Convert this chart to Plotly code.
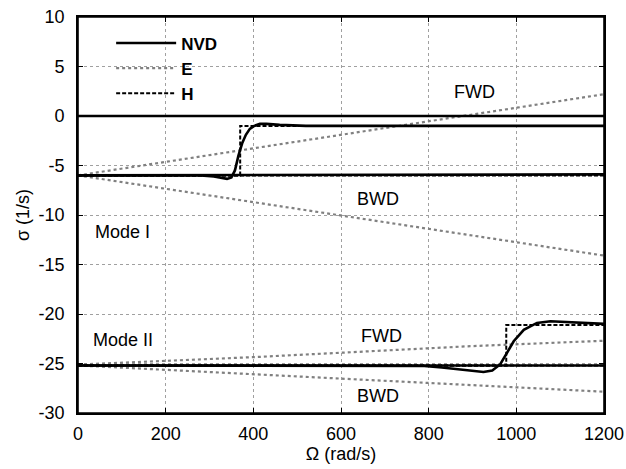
import plotly.graph_objects as go

# ---- data ----
# NVD, mode I
nvd1a_w = [0, 280, 310, 330, 340, 350, 358, 366, 375, 383, 392, 402, 415, 430, 460, 520, 600, 800, 1000, 1200]
nvd1a_s = [-6.0, -6.0, -6.1, -6.3, -6.35, -6.2, -5.5, -4.0, -2.7, -1.9, -1.3, -1.0, -0.8, -0.8, -0.9, -1.0, -1.0, -1.05, -1.05, -1.0]
nvd1b_w = [0, 1200]
nvd1b_s = [-6.0, -5.9]
nvd0_w = [0, 1200]
nvd0_s = [0.0, 0.0]
# NVD, mode II
nvd2a_w = [0, 400, 790, 830, 870, 900, 925, 945, 963, 979, 994, 1017, 1047, 1078, 1123, 1160, 1200]
nvd2a_s = [-25.2, -25.2, -25.25, -25.4, -25.6, -25.75, -25.85, -25.7, -25.1, -23.9, -22.75, -21.6, -20.9, -20.73, -20.83, -20.95, -21.0]
nvd2b_w = [0, 1200]
nvd2b_s = [-25.2, -25.2]
# E
e1f_w = [0, 1200]
e1f_s = [-6.0, 2.2]
e1b_w = [0, 1200]
e1b_s = [-6.0, -14.1]
e2f_w = [0, 400, 895, 1200]
e2f_s = [-25.1, -24.36, -23.25, -22.7]
e2b_w = [0, 400, 1200]
e2b_s = [-25.2, -26.06, -27.85]
# H
h1a_w = [0, 370, 370, 1200]
h1a_s = [-6.0, -6.0, -1.0, -1.0]
h1b_w = [0, 1200]
h1b_s = [-6.0, -6.0]
h2a_w = [0, 977, 977, 1200]
h2a_s = [-25.2, -25.2, -21.1, -21.1]
h2b_w = [0, 1200]
h2b_s = [-25.2, -25.2]

x_ticks = [0, 200, 400, 600, 800, 1000, 1200]
y_ticks = [10, 5, 0, -5, -10, -15, -20, -25, -30]
y_tick_text = ["10", "5", "0", "-5", "-10", "-15", "-20", "-25", "-30"]

labels = [
    ("FWD", 904, 2.4),
    ("BWD", 684, -8.4),
    ("FWD", 693, -22.2),
    ("BWD", 684, -28.3),
]
mode_labels = [("Mode I", 35, -11.7), ("Mode II", 30, -22.6)]

FONT = "Liberation Sans, Arial, sans-serif"

fig = go.Figure()

E_STYLE = dict(color="#808080", width=2.2, dash="dot")
H_STYLE = dict(color="black", width=2, dash="4px,2px")
N_STYLE = dict(color="black", width=2.6)

for w, s in [(e1f_w, e1f_s), (e1b_w, e1b_s), (e2f_w, e2f_s), (e2b_w, e2b_s)]:
    fig.add_trace(go.Scatter(x=w, y=s, mode="lines", line=E_STYLE, name="E",
                             legendgroup="E", showlegend=False))
for w, s in [(h1a_w, h1a_s), (h1b_w, h1b_s), (h2a_w, h2a_s), (h2b_w, h2b_s)]:
    fig.add_trace(go.Scatter(x=w, y=s, mode="lines", line=H_STYLE, name="H",
                             legendgroup="H", showlegend=False))
for w, s in [(nvd0_w, nvd0_s), (nvd1a_w, nvd1a_s), (nvd1b_w, nvd1b_s),
             (nvd2a_w, nvd2a_s), (nvd2b_w, nvd2b_s)]:
    fig.add_trace(go.Scatter(x=w, y=s, mode="lines", line=N_STYLE, name="NVD",
                             legendgroup="NVD", showlegend=False))

# legend entries
fig.add_trace(go.Scatter(x=[None], y=[None], mode="lines", line=N_STYLE, name="NVD", legendrank=1))
fig.add_trace(go.Scatter(x=[None], y=[None], mode="lines", line=E_STYLE, name="E", legendrank=2))
fig.add_trace(go.Scatter(x=[None], y=[None], mode="lines", line=H_STYLE, name="H", legendrank=3))

for t, x, y in labels:
    fig.add_annotation(x=x, y=y, text=t, showarrow=False,
                       font=dict(family=FONT, size=18, color="black"))
for t, x, y in mode_labels:
    fig.add_annotation(x=x, y=y, text=t, showarrow=False, xanchor="left",
                       font=dict(family=FONT, size=18, color="black"))

# white backing of the legend (hides gridlines, sits below the traces)
fig.add_shape(type="rect", xref="paper", yref="paper", layer="between",
              x0=0.013, x1=0.281, y0=0.783, y1=0.987,
              fillcolor="white", line=dict(width=0))
# plot frame
fig.add_shape(type="rect", xref="paper", yref="paper", layer="above",
              x0=0, x1=1, y0=0, y1=1,
              fillcolor="rgba(0,0,0,0)", line=dict(color="black", width=1.6))

axis_common = dict(
    showline=True, linecolor="black", linewidth=1.6, mirror="ticks",
    ticks="inside", ticklen=5, tickcolor="black", tickwidth=1.2,
    showgrid=True, gridcolor="#a0a0a0", gridwidth=1, griddash="dot",
    zeroline=False, automargin=False, ticklabeloverflow="allow",
    tickfont=dict(family=FONT, size=18, color="black"),
)

fig.update_xaxes(range=[0, 1200], tickvals=x_ticks, ticklabelstandoff=4,
                 title=dict(text="Ω (rad/s)", font=dict(family=FONT, size=18, color="black"),
                            standoff=2),
                 **axis_common)
fig.update_yaxes(range=[-30, 10], tickvals=y_ticks, ticktext=y_tick_text, ticklabelstandoff=8,
                 title=dict(text="σ (1/s)", font=dict(family=FONT, size=18, color="black"),
                            standoff=4),
                 **axis_common)

fig.update_layout(
    width=626, height=469,
    margin=dict(l=78, r=22, t=17, b=56),
    plot_bgcolor="white", paper_bgcolor="white",
    showlegend=True,
    legend=dict(x=0.063, y=0.9785, xanchor="left", yanchor="top",
                bgcolor="rgba(0,0,0,0)", borderwidth=0, itemwidth=60,
                tracegroupgap=0,
                font=dict(family=FONT, size=17, color="black", weight="bold")),
)

# remove the default 8px page margin so the figure sits at the window's corner
fig.write_html("out.html",
               config={"displayModeBar": False},
               post_script="document.body.style.margin='0';document.body.style.overflow='hidden';")
